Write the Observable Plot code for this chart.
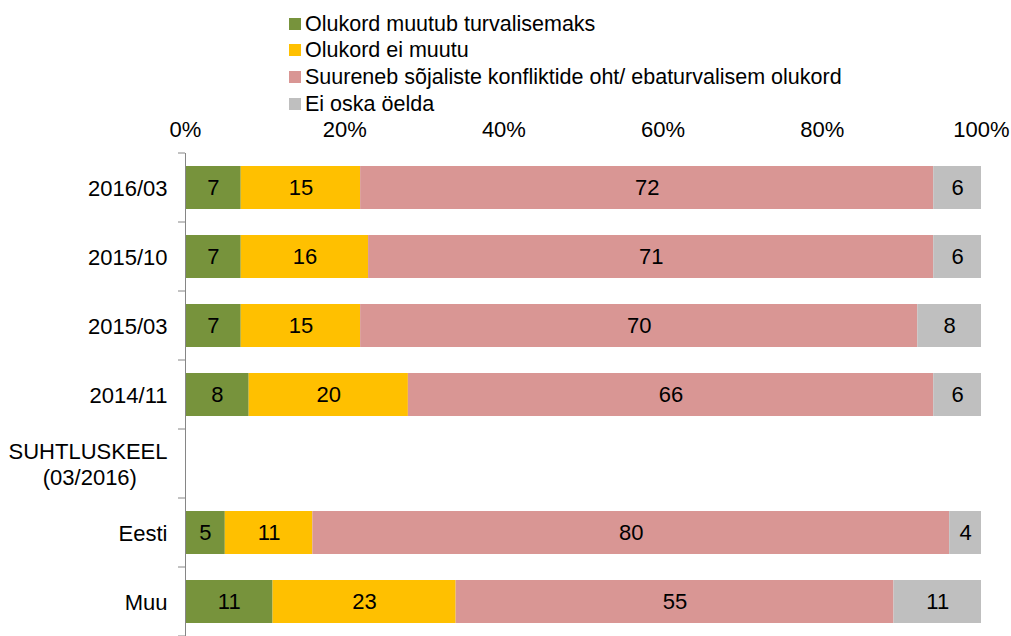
<!DOCTYPE html>
<html>
<head>
<meta charset="utf-8">
<script src="https://cdn.jsdelivr.net/npm/d3@7"></script>
<script src="https://cdn.jsdelivr.net/npm/@observablehq/plot@0.6"></script>
<style>
  body { margin: 0; background: #fff; font-family: "Liberation Sans", Arial, sans-serif; }
  #legend { position: relative; height: 115px; width: 1011px; }
  .item { position: absolute; left: 289px; display: flex; align-items: center; font-size: 21.5px; line-height: 24px; color: #000; white-space: nowrap; }
  .sw { width: 12px; height: 12px; margin-right: 4px; }
  svg { display: block; }
</style>
</head>
<body>
<div id="legend"></div>
<div id="chart"></div>
<script>
const categories = ["2016/03", "2015/10", "2015/03", "2014/11", "SUHTLUSKEEL", "Eesti", "Muu"];
const categoryLabels = ["2016/03", "2015/10", "2015/03", "2014/11", "SUHTLUSKEEL\n(03/2016)\u00A0\u00A0\u00A0\u00A0\u00A0", "Eesti", "Muu"];
const seriesNames = [
  "Olukord muutub turvalisemaks",
  "Olukord ei muutu",
  "Suureneb sõjaliste konfliktide oht/ ebaturvalisem olukord",
  "Ei oska öelda"
];
const better   = [7, 7, 7, 8, null, 5, 11];
const same     = [15, 16, 15, 20, null, 11, 23];
const worse    = [72, 71, 70, 66, null, 80, 55];
const dontKnow = [6, 6, 8, 6, null, 4, 11];
const colors = ["#77933C", "#FFC000", "#D99694", "#BFBFBF"];
const xTicks = [0, 20, 40, 60, 80, 100];

const seriesValues = [better, same, worse, dontKnow];
const data = [];
categories.forEach((c, i) => {
  seriesNames.forEach((s, j) => {
    const v = seriesValues[j][i];
    if (v != null) data.push({cat: c, series: s, value: v});
  });
});

// Legend (HTML above the SVG)
const legend = document.getElementById("legend");
const legendTops = [12, 38, 65, 92];
seriesNames.forEach((s, j) => {
  const item = document.createElement("div");
  item.className = "item";
  item.style.top = legendTops[j] + "px";
  const sw = document.createElement("span");
  sw.className = "sw";
  sw.style.background = colors[j];
  const t = document.createElement("span");
  t.textContent = s;
  item.appendChild(sw);
  item.appendChild(t);
  legend.appendChild(item);
});

function boundaryTicks(index, scales, values, dims) {
  const y = scales.y;
  const step = y.step(), bw = y.bandwidth();
  const pts = categories.map(c => y(c) - (step - bw) / 2);
  pts.push(pts[pts.length - 1] + step);
  const g = d3.create("svg:g");
  g.selectAll("line").data(pts).join("line")
    .attr("x1", dims.marginLeft - 7).attr("x2", dims.marginLeft)
    .attr("y1", d => d).attr("y2", d => d)
    .attr("stroke", "#868686").attr("stroke-width", 1);
  return g.node();
}

const labelMap = new Map(categories.map((c, i) => [c, categoryLabels[i]]));

const chart = Plot.plot({
  width: 1011,
  height: 521,
  marginTop: 38,
  marginLeft: 185,
  marginRight: 30,
  marginBottom: 0,
  style: {fontFamily: "'Liberation Sans', Arial, sans-serif", fontSize: "22px", color: "#000", background: "#fff"},
  x: {domain: [0, 100]},
  y: {domain: categories, paddingInner: 0.37, paddingOuter: 0.185},
  color: {domain: seriesNames, range: colors},
  marks: [
    Plot.barX(data, Plot.stackX({x: "value", y: "cat", z: "series", order: seriesNames, fill: "series"})),
    Plot.text(data, Plot.stackX({x: "value", y: "cat", z: "series", order: seriesNames, text: d => String(d.value), fill: "#000", fontSize: 22})),
    Plot.ruleX([0], {stroke: "#868686", strokeWidth: 1}),
    boundaryTicks,
    Plot.axisX({anchor: "top", ticks: xTicks, tickFormat: d => d + "%", tickSize: 0, tickPadding: 17, fontSize: 22, label: null}),
    Plot.axisY({anchor: "left", tickSize: 0, tickPadding: 18, tickFormat: d => labelMap.get(d), fontSize: 22, lineHeight: 1.15, label: null})
  ]
});
document.getElementById("chart").appendChild(chart);
</script>
</body>
</html>
